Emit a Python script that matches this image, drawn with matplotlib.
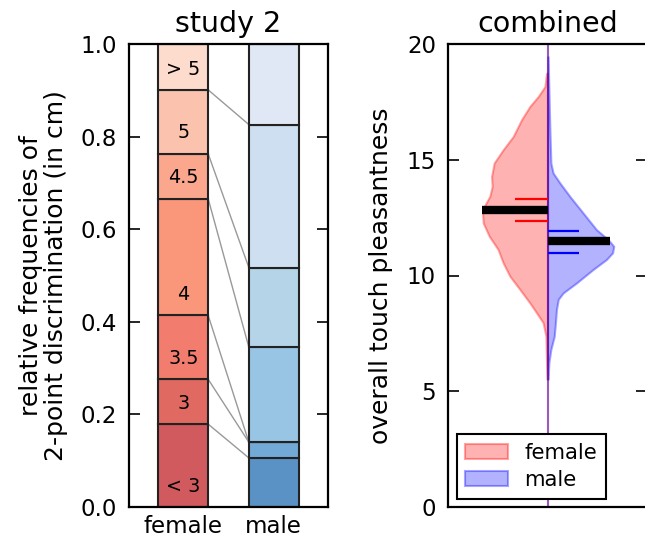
import numpy as np
import matplotlib
matplotlib.use("Agg")
import matplotlib.pyplot as plt

# ---------------- data ----------------
categories = ["< 3", "3", "3.5", "4", "4.5", "5", "> 5"]
female_freq = [0.179, 0.097, 0.138, 0.252, 0.097, 0.138, 0.099]
male_freq = [0.106, 0.034, 0.000, 0.205, 0.172, 0.309, 0.174]
groups = ["female", "male"]

female_colors = ["#d15a5e", "#e06a62", "#f27c6e", "#fa967a", "#fba78e", "#fbc3ae", "#fddbcd"]
male_colors = ["#5b92c5", "#72a9d6", "#8ebfe0", "#98c5e3", "#b6d4e8", "#cddff0", "#dfe8f4"]

# split violin profiles (value, half width)
female_y = [5.52, 6.24, 7.38, 7.96, 8.39, 8.82, 9.40, 9.97, 10.55, 11.12, 11.70, 12.27,
            12.84, 13.42, 13.85, 14.28, 14.86, 15.43, 16.01, 16.72, 17.30, 17.73, 18.16, 18.74]
female_w = [0.002, 0.005, 0.008, 0.022, 0.055, 0.089, 0.139, 0.189, 0.223, 0.248, 0.293, 0.323,
            0.327, 0.290, 0.278, 0.281, 0.268, 0.223, 0.172, 0.131, 0.089, 0.047, 0.013, 0.005]
male_y = [5.52, 6.24, 6.81, 7.38, 7.96, 8.53, 8.97, 9.25, 9.68, 10.26, 10.69, 10.98, 11.26,
          11.55, 11.98, 12.70, 13.42, 14.00, 14.43, 14.86, 16.29, 19.45]
male_w = [0.003, 0.007, 0.017, 0.034, 0.040, 0.045, 0.054, 0.079, 0.146, 0.229, 0.296, 0.327,
          0.333, 0.305, 0.246, 0.179, 0.112, 0.062, 0.028, 0.017, 0.012, 0.003]
female_mean, female_ci = 12.84, (12.37, 13.32)
male_mean, male_ci = 11.47, (10.96, 11.94)

# ---------------- figure ----------------
plt.rcParams["font.family"] = "DejaVu Sans"
fig = plt.figure(figsize=(6.45, 5.39), dpi=100)
ax1 = fig.add_axes([129/645, 1-507/539, 199/645, 463/539])
ax2 = fig.add_axes([448/645, 1-507/539, 199/645, 463/539])

bw = 0.55
xpos = [0, 1]
fcum = np.concatenate([[0], np.cumsum(female_freq)])
mcum = np.concatenate([[0], np.cumsum(male_freq)])
fcum = fcum / fcum[-1]
mcum = mcum / mcum[-1]
for i, cat in enumerate(categories):
    ax1.bar(xpos[0], female_freq[i] / sum(female_freq), bw, bottom=fcum[i],
            color=female_colors[i], edgecolor="#222222", linewidth=1.5, zorder=2)
    ax1.bar(xpos[1], male_freq[i] / sum(male_freq), bw, bottom=mcum[i],
            color=male_colors[i], edgecolor="#222222", linewidth=1.5, zorder=2)
    ax1.text(xpos[0], fcum[i] + 0.045, cat, ha="center", va="center", fontsize=13.8, zorder=3)
for i in range(1, len(categories)):
    ax1.plot([xpos[0] + bw/2, xpos[1] - bw/2], [fcum[i], mcum[i]], color="#999999",
             linewidth=1.0, zorder=1)
ax1.set_xlim(-0.6, 1.6)
ax1.set_ylim(0, 1)
ax1.set_xticks(xpos)
ax1.set_xticklabels(groups)
ax1.set_yticks(np.arange(0, 1.01, 0.2))
ax1.set_title("study 2", fontsize=20.5, pad=8.6)
ax1.set_ylabel("relative frequencies of\n2-point discrimination (in cm)", fontsize=18,
               labelpad=9, linespacing=1.05)

# violin
fy = np.array(female_y); fw = np.array(female_w)
my = np.array(male_y); mw = np.array(male_w)
ax2.fill_betweenx(fy, -fw, 0, facecolor=(1, 0, 0, 0.3), edgecolor=(1, 0, 0, 0.35), linewidth=1.5,
                  label="female")
ax2.fill_betweenx(my, 0, mw, facecolor=(0, 0, 1, 0.3), edgecolor=(0, 0, 1, 0.35), linewidth=1.5,
                  label="male")
ax2.axvline(0, color=(1, 0, 0, 0.4), linewidth=1.5, zorder=1)
ax2.axvline(0, color=(0, 0, 1, 0.4), linewidth=1.5, zorder=1)
fwm = np.interp(female_mean, fy, fw)
mwm = np.interp(male_mean, my, mw)
ax2.plot([-fwm, 0], [female_mean] * 2, color="black", linewidth=6, solid_capstyle="butt", zorder=3)
ax2.plot([0, mwm], [male_mean] * 2, color="black", linewidth=6, solid_capstyle="butt", zorder=3)
for c in female_ci:
    ax2.plot([-fwm / 2, 0], [c, c], color="red", linewidth=1.6, solid_capstyle="butt", zorder=3)
for c in male_ci:
    ax2.plot([0, mwm / 2], [c, c], color="blue", linewidth=1.6, solid_capstyle="butt", zorder=3)
ax2.set_xlim(-0.5, 0.5)
ax2.set_ylim(0, 20)
ax2.set_xticks([])
ax2.set_yticks([0, 5, 10, 15, 20])
ax2.set_title("combined", fontsize=20.5, pad=8.6)
ax2.set_ylabel("overall touch pleasantness", fontsize=18, labelpad=10)
leg = ax2.legend(loc="lower left", fontsize=15.3, fancybox=False, edgecolor="black",
                 framealpha=1, borderaxespad=0.4, handlelength=2.0, borderpad=0.4,
                 labelspacing=0.35)
leg.get_frame().set_linewidth(1.5)

for ax in (ax1, ax2):
    for s in ax.spines.values():
        s.set_linewidth(1.6)
    ax.tick_params(axis="y", which="both", direction="in", length=8, width=1.2,
                   left=True, right=True, labelsize=16.5, pad=8.6)
    ax.tick_params(axis="x", length=0, labelsize=16.5, pad=6)

fig.savefig("out.png", dpi=100)
